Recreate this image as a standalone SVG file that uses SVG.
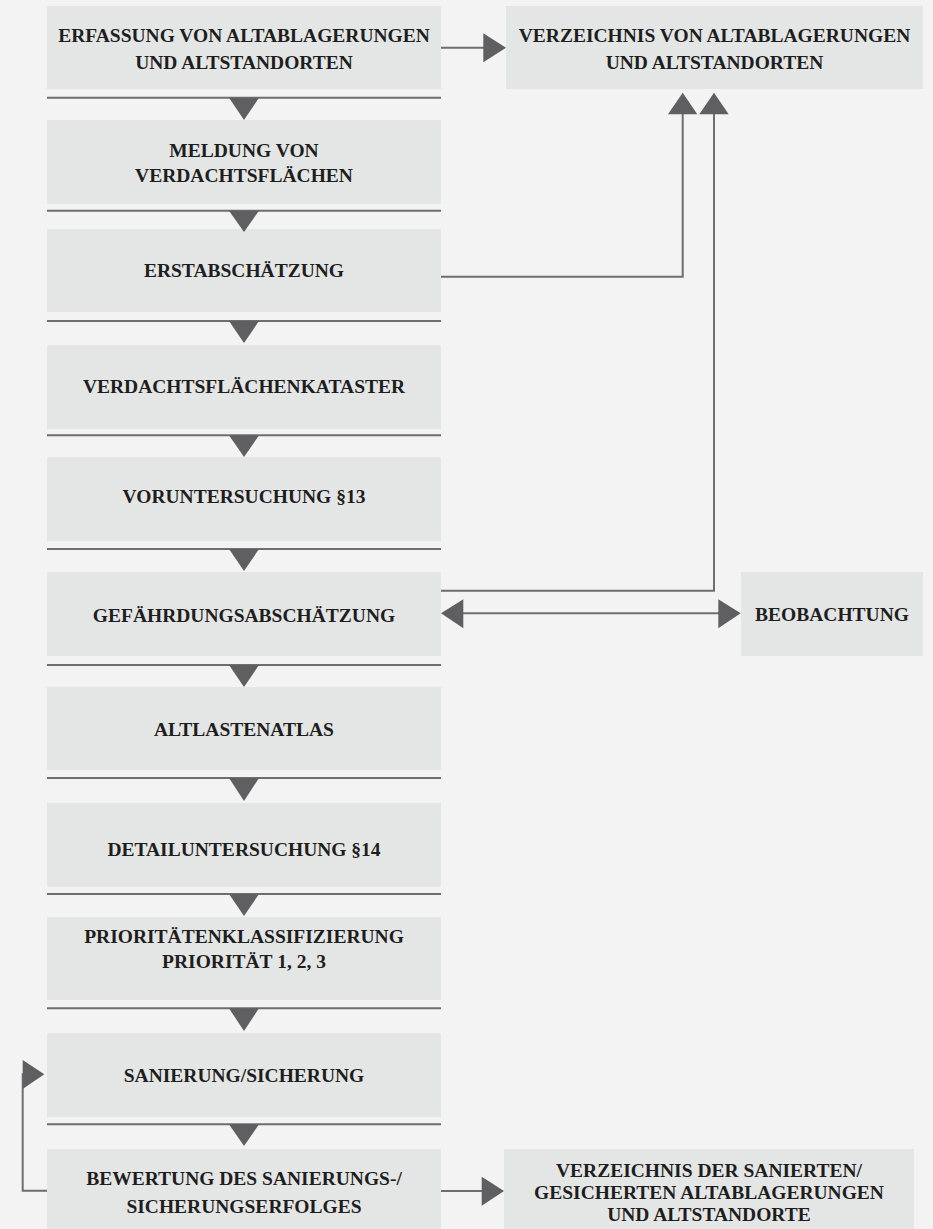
<svg xmlns="http://www.w3.org/2000/svg" width="933" height="1229" viewBox="0 0 933 1229">
<style>
.bg{fill:#f3f3f3}
.box{fill:#e4e5e5}
.t{font-family:"Liberation Serif","Times New Roman",serif;font-weight:bold;font-size:19.5px;fill:#1e1e1e;text-anchor:middle}
.ln{stroke:#6e6e6e;stroke-width:2;fill:none}
.sep{stroke:#6e6e6e;stroke-width:2}
.tri{fill:#5f5f61}
</style>
<rect class="bg" x="0" y="0" width="933" height="1229"/>
<g id="n1"><rect class="box" x="47" y="6" width="394" height="83"/><text class="t" x="244" y="42.3">ERFASSUNG VON ALTABLAGERUNGEN</text><text class="t" x="244" y="69.3">UND ALTSTANDORTEN</text></g>
<g id="n2"><rect class="box" x="47" y="120" width="394" height="84"/><text class="t" x="244" y="156.7">MELDUNG VON</text><text class="t" x="244" y="181.7">VERDACHTSFLÄCHEN</text></g>
<g id="n3"><rect class="box" x="47" y="229" width="394" height="83"/><text class="t" x="244" y="277">ERSTABSCHÄTZUNG</text></g>
<g id="n4"><rect class="box" x="47" y="345" width="394" height="84"/><text class="t" x="244" y="393">VERDACHTSFLÄCHENKATASTER</text></g>
<g id="n5"><rect class="box" x="47" y="457" width="394" height="84"/><text class="t" x="244" y="503">VORUNTERSUCHUNG §13</text></g>
<g id="n6"><rect class="box" x="47" y="572" width="394" height="84"/><text class="t" x="244" y="621.7">GEFÄHRDUNGSABSCHÄTZUNG</text></g>
<g id="n7"><rect class="box" x="47" y="687" width="394" height="83"/><text class="t" x="244" y="736">ALTLASTENATLAS</text></g>
<g id="n8"><rect class="box" x="47" y="803" width="394" height="84"/><text class="t" x="244" y="856">DETAILUNTERSUCHUNG §14</text></g>
<g id="n9"><rect class="box" x="47" y="917" width="394" height="83"/><text class="t" x="244" y="943">PRIORITÄTENKLASSIFIZIERUNG</text><text class="t" x="244" y="968">PRIORITÄT 1, 2, 3</text></g>
<g id="n10"><rect class="box" x="47" y="1033" width="394" height="84"/><text class="t" x="244" y="1082.3">SANIERUNG/SICHERUNG</text></g>
<g id="n11"><rect class="box" x="47" y="1149" width="394" height="84"/><text class="t" x="244" y="1185">BEWERTUNG DES SANIERUNGS-/</text><text class="t" x="244" y="1212.7">SICHERUNGSERFOLGES</text></g>
<g id="n12"><rect class="box" x="506" y="6" width="417" height="83"/><text class="t" x="714.5" y="42.3">VERZEICHNIS VON ALTABLAGERUNGEN</text><text class="t" x="714.5" y="69.3">UND ALTSTANDORTEN</text></g>
<g id="n13"><rect class="box" x="741" y="572" width="182" height="84"/><text class="t" x="832" y="621">BEOBACHTUNG</text></g>
<g id="n14"><rect class="box" x="504" y="1149" width="410" height="84"/><text class="t" x="709" y="1176.7">VERZEICHNIS DER SANIERTEN/</text><text class="t" x="709" y="1199">GESICHERTEN ALTABLAGERUNGEN</text><text class="t" x="709" y="1221">UND ALTSTANDORTE</text></g>
<g id="connectors">
<line class="sep" x1="47" y1="97.7" x2="441" y2="97.7"/><polygon class="tri" points="229,97.7 259,97.7 244,120"/>
<line class="sep" x1="47" y1="210.7" x2="441" y2="210.7"/><polygon class="tri" points="229,210.7 259,210.7 244,232"/>
<line class="sep" x1="47" y1="321" x2="441" y2="321"/><polygon class="tri" points="229,321 259,321 244,343"/>
<line class="sep" x1="47" y1="435.3" x2="441" y2="435.3"/><polygon class="tri" points="229,435.3 259,435.3 244,457"/>
<line class="sep" x1="47" y1="549" x2="441" y2="549"/><polygon class="tri" points="229,549 259,549 244,571"/>
<line class="sep" x1="47" y1="665" x2="441" y2="665"/><polygon class="tri" points="229,665 259,665 244,687"/>
<line class="sep" x1="47" y1="778" x2="441" y2="778"/><polygon class="tri" points="229,778 259,778 244,801"/>
<line class="sep" x1="47" y1="894" x2="441" y2="894"/><polygon class="tri" points="229,894 259,894 244,916"/>
<line class="sep" x1="47" y1="1008.3" x2="441" y2="1008.3"/><polygon class="tri" points="229,1008.3 259,1008.3 244,1031"/>
<line class="sep" x1="47" y1="1124.3" x2="441" y2="1124.3"/><polygon class="tri" points="229,1124.3 259,1124.3 244,1146"/>
<line class="ln" x1="441" y1="47.7" x2="484" y2="47.7"/><polygon class="tri" points="483.3,33.3 506,47.7 483.3,62.3"/>
<polyline class="ln" points="441,276.7 682.7,276.7 682.7,113"/><polygon class="tri" points="668,114.3 697.3,114.3 682.7,92.7"/>
<polyline class="ln" points="441,590.7 714,590.7 714,113"/><polygon class="tri" points="699.3,114.3 728.7,114.3 714,92.7"/>
<line class="ln" x1="462" y1="613.3" x2="720" y2="613.3"/><polygon class="tri" points="463.3,599.3 441,613.3 463.3,628.3"/><polygon class="tri" points="718.3,599.3 740.7,613.3 718.3,628.3"/>
<line class="ln" x1="441" y1="1191" x2="483" y2="1191"/><polygon class="tri" points="481.7,1176.7 504,1191 481.7,1205.7"/>
<polyline class="ln" points="47,1190.7 22.7,1190.7 22.7,1074.3 24,1074.3"/><polygon class="tri" points="22.7,1060 44.3,1074.3 22.7,1089"/>
</g>
</svg>
